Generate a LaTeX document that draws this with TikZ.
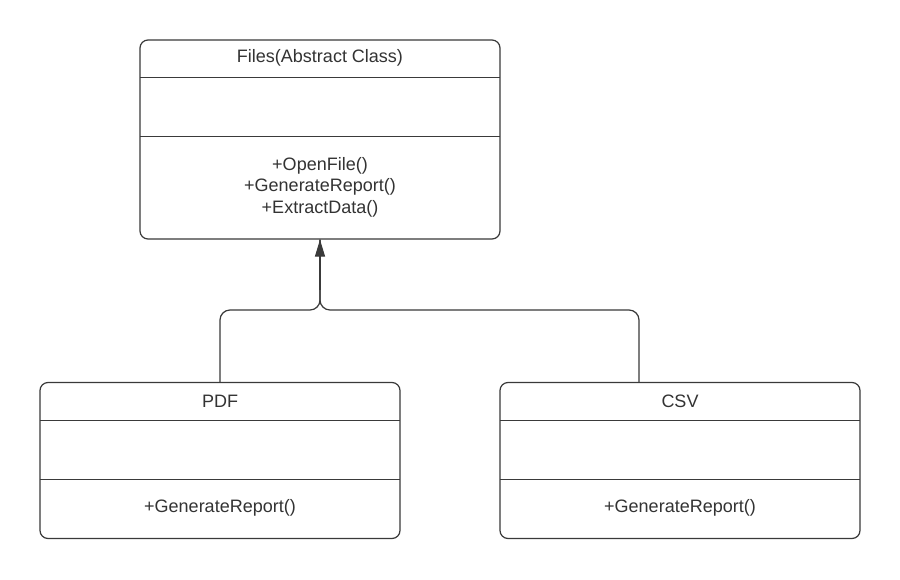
\documentclass[tikz,border=0pt]{standalone}
\usepackage{fontspec}
\setmainfont{Liberation Sans}
\usetikzlibrary{arrows.meta,calc}
\definecolor{linec}{HTML}{3A3A3A}
\definecolor{textc}{HTML}{333333}
\begin{document}
\begin{tikzpicture}[x=1pt,y=-1pt,
  classbox/.style={draw=linec,line width=1.2pt,rounded corners=8pt,fill=white,inner sep=0pt},
  lbl/.style={text=textc,font=\fontsize{18}{21.5}\selectfont,align=center,inner sep=0pt},
  divider/.style={draw=linec,line width=1.2pt},
  conn/.style={draw=linec,line width=1.2pt,rounded corners=10pt}]
\useasboundingbox[fill=white] (0,0) rectangle (900,579);

% Files
\node[classbox,minimum width=360pt,minimum height=199pt] (files) at (320,139.5) {};
\coordinate (fd1l) at (140,77.5); \coordinate (fd1r) at (500,77.5);
\coordinate (fd2l) at (140,136.5); \coordinate (fd2r) at (500,136.5);
\draw[divider] (fd1l) -- (fd1r);
\draw[divider] (fd2l) -- (fd2r);
\node[lbl] (filest) at (320,58) {Files(Abstract Class)};
\node[lbl] (filesm) at (320,187) {+OpenFile()\\+GenerateReport()\\+ExtractData()};

% PDF
\node[classbox,minimum width=360pt,minimum height=156pt] (pdf) at (220,460.5) {};
\coordinate (pd1l) at (40,420.5); \coordinate (pd1r) at (400,420.5);
\coordinate (pd2l) at (40,479.5); \coordinate (pd2r) at (400,479.5);
\draw[divider] (pd1l) -- (pd1r);
\draw[divider] (pd2l) -- (pd2r);
\node[lbl] (pdft) at (220,401) {PDF};
\node[lbl] (pdfm) at (220,507.5) {+GenerateReport()};

% CSV
\node[classbox,minimum width=360pt,minimum height=156pt] (csv) at (680,460.5) {};
\coordinate (cd1l) at (500,420.5); \coordinate (cd1r) at (860,420.5);
\coordinate (cd2l) at (500,479.5); \coordinate (cd2r) at (860,479.5);
\draw[divider] (cd1l) -- (cd1r);
\draw[divider] (cd2l) -- (cd2r);
\node[lbl] (csvt) at (680,401) {CSV};
\node[lbl] (csvm) at (680,507.5) {+GenerateReport()};

% connectors
\coordinate (csvtop) at ([xshift=-41pt]csv.north);
\coordinate (join) at (320,310);
\draw[conn] (pdf.north) |- (join) -- (files.south);
\draw[conn] (csvtop) |- (join) -- (files.south);
\draw[linec,line width=1.2pt,-{Triangle[length=17pt,width=10pt]}] (320,290) -- (files.south);
\end{tikzpicture}
\end{document}
